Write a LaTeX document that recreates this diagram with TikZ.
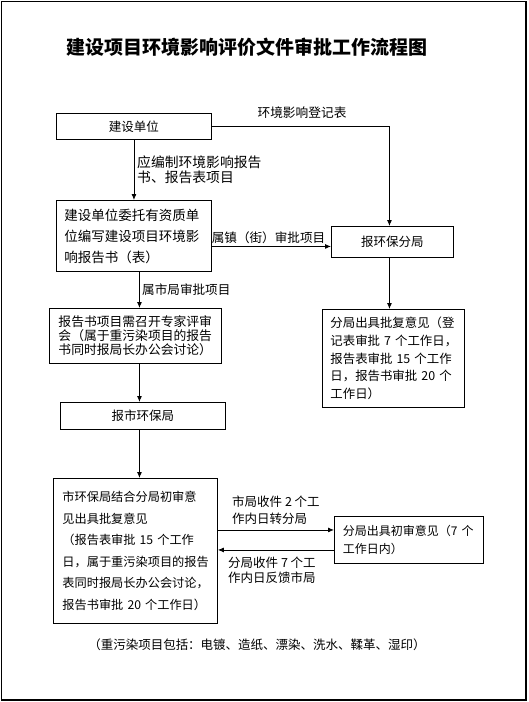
\documentclass[tikz,border=0pt]{standalone}
\usepackage{fontspec}
\setmainfont{Noto Sans CJK SC}
\usetikzlibrary{arrows.meta,calc}
\begin{document}
\begin{tikzpicture}[x=1pt,y=-1pt,
  box/.style={draw,line width=0.9pt,inner sep=0pt,anchor=north west},
  arr/.style={line width=0.8pt,-{Latex[length=6pt,width=5pt]}},
  lbl/.style={inner sep=0pt},
]
\useasboundingbox (0,0) rectangle (528,702);
\draw[line width=1.6pt] (1.5,1.5) rectangle (526,700);

\node[lbl,font=\fontsize{19}{19}\selectfont\bfseries] (title) at (247,47) {建设项目环境影响评价文件审批工作流程图};

% boxes
\node[box,minimum width=155,minimum height=26,font=\fontsize{12.5}{15}\selectfont] (n1) at (56,113) {建设单位};
\node[box,minimum width=155,minimum height=71,text width=139,align=left,font=\fontsize{13.5}{21}\selectfont] (n2) at (56,200)
  {建设单位委托有资质单\\位编写建设项目环境影\\响报告书（表）};
\node[box,minimum width=122,minimum height=31,font=\fontsize{12.5}{15}\selectfont] (n3) at (331,226) {报环保分局};
\node[box,minimum width=142,minimum height=98,text width=126,align=left,font=\fontsize{12.4}{17.7}\selectfont] (n4) at (322,309)
  {分局出具批复意见（登\\记表审批~7~个工作日，\\报告表审批~15~个工作\\日，报告书审批~20~个\\工作日）};
\node[box,minimum width=172,minimum height=55,text width=154,align=left,font=\fontsize{12.8}{14}\selectfont] (n5) at (49,308)
  {报告书项目需召开专家评审\\会（属于重污染项目的报告\\书同时报局长办公会讨论）};
\node[box,minimum width=165,minimum height=27,font=\fontsize{12.5}{15}\selectfont] (n6) at (60,402) {报市环保局};
\node[box,minimum width=164,minimum height=145,text width=146,align=left,font=\fontsize{12.2}{21.5}\selectfont] (n7) at (53,478)
  {市环保局结合分局初审意\\见出具批复意见\\（报告表审批~15~个工作\\日，属于重污染项目的报告\\表同时报局长办公会讨论，\\报告书审批~20~个工作日）};
\node[box,minimum width=149,minimum height=47,text width=132,align=left,font=\fontsize{12}{18}\selectfont] (n8) at (334,516)
  {分局出具初审意见（7~个\\工作日内）};

% labels
\node[lbl,font=\fontsize{12.7}{15}\selectfont] (l1) at (302,113) {环境影响登记表};
\node[lbl,anchor=west,align=left,font=\fontsize{13.8}{15}\selectfont] (l2) at (137,169.5) {应编制环境影响报告\\书、报告表项目};
\node[lbl,font=\fontsize{12.6}{15}\selectfont] (l3) at (268.5,238) {属镇（街）审批项目};
\node[lbl,anchor=west,font=\fontsize{12.6}{15}\selectfont] (l4) at (142,290) {属市局审批项目};
\node[lbl,anchor=west,align=left,font=\fontsize{12.5}{17}\selectfont] (l5) at (232,510.5) {市局收件~2~个工\\作内日转分局};
\node[lbl,anchor=west,align=left,font=\fontsize{12.5}{15.5}\selectfont] (l6) at (228,570.5) {分局收件~7~个工\\作内日反馈市局};
\node[lbl,font=\fontsize{12.5}{15}\selectfont] (note) at (257,645) {（重污染项目包括：电镀、造纸、漂染、洗水、鞣革、湿印）};

% connectors
\draw[arr] (n1.east) -| ([xshift=-3pt]n3.north);
\draw[arr] (n1.south) -- (n1.south |- n2.north);
\draw[arr] ([yshift=-4.5pt]n3.west -| n2.east) -- ([yshift=-4.5pt]n3.west);
\draw[arr] ([xshift=5.5pt]n2.south) -- ([xshift=5.5pt]n2.south |- n5.north);
\draw[arr] ([xshift=-3pt]n3.south) -- ([xshift=-3pt]n3.south |- n4.north);
\draw[arr] ([xshift=4pt]n5.south) -- ([xshift=4pt]n5.south |- n6.north);
\draw[arr] ([xshift=-3.5pt]n6.south) -- ([xshift=-3.5pt]n6.south |- n7.north);
\draw[arr] ([yshift=10pt]n8.west -| n7.east) -- ([yshift=10pt]n8.west);
\draw[arr] ([yshift=-10pt]n8.west) -- ([yshift=-10pt]n8.west -| n7.east);
\end{tikzpicture}
\end{document}
